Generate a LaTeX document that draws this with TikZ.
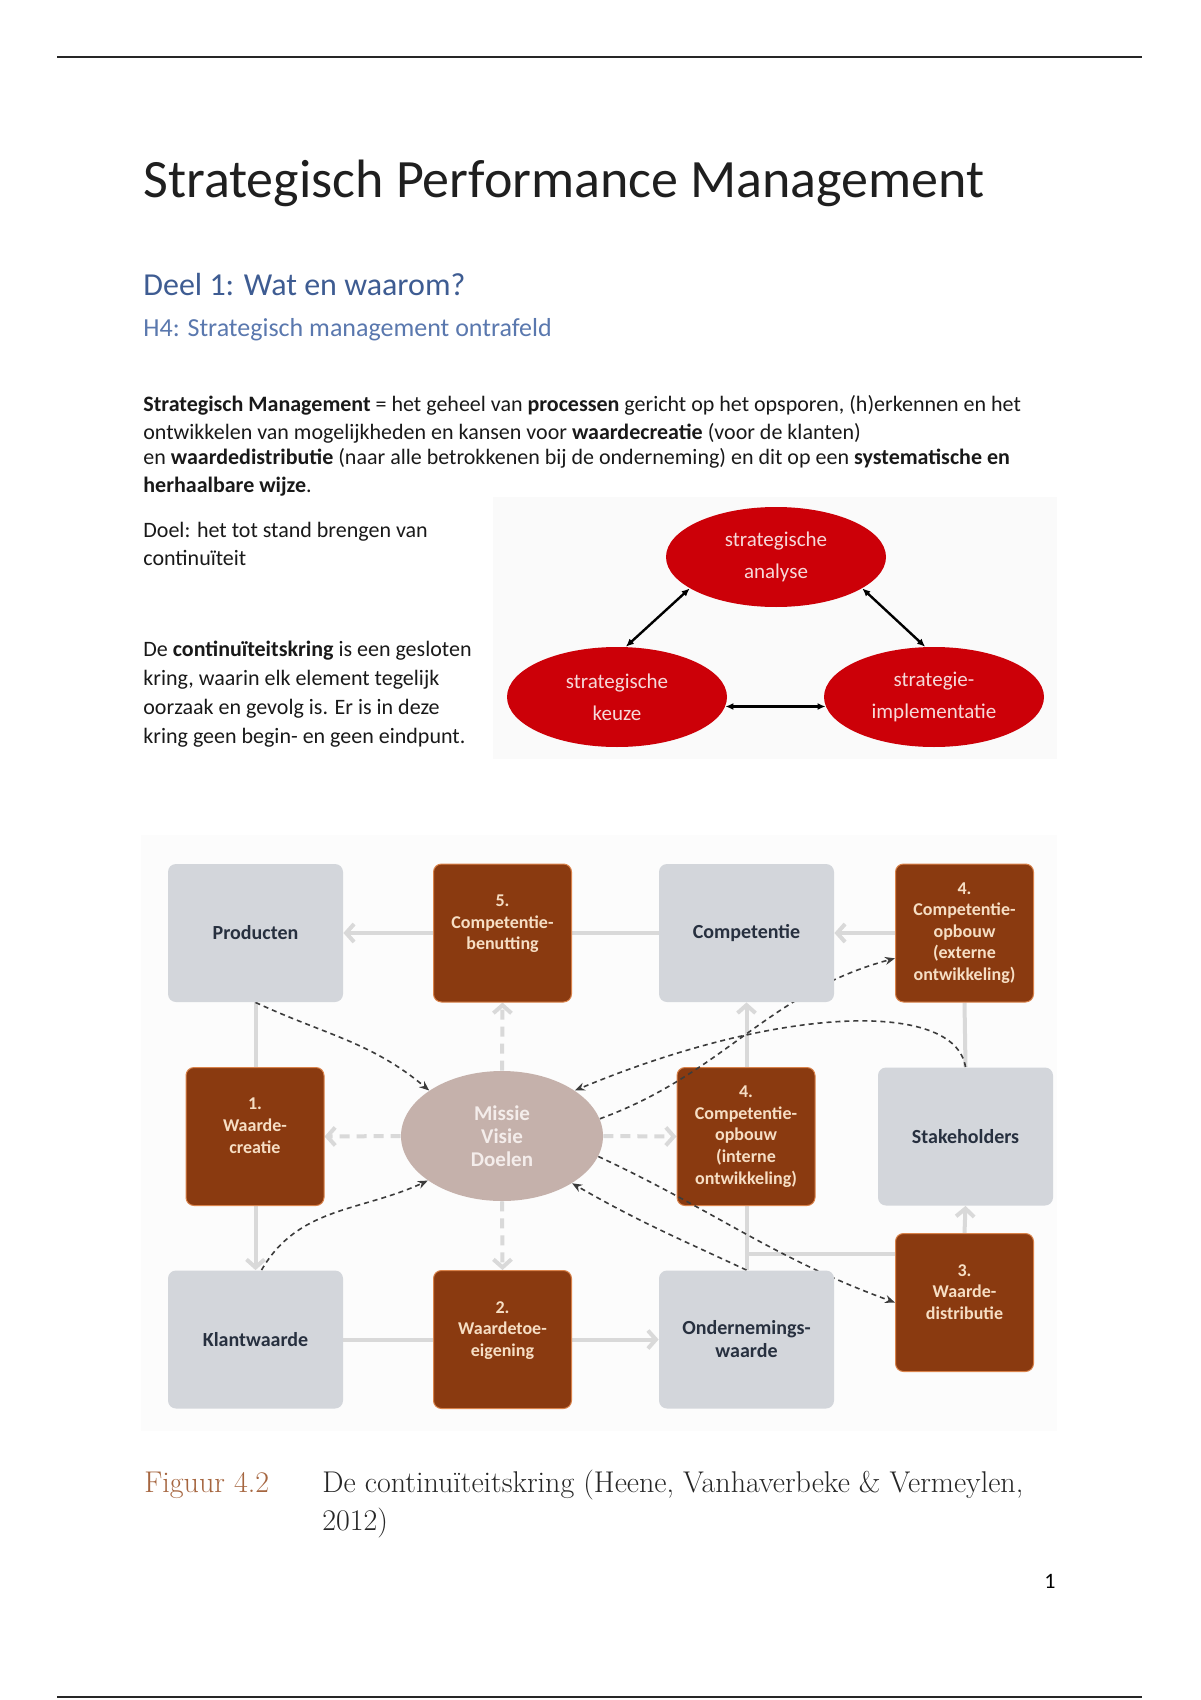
\documentclass[tikz,border=0pt]{standalone}
\usepackage{fontspec}
\usepackage{tikz}
\usetikzlibrary{arrows.meta,positioning,shapes.geometric,calc}
\newfontfamily\calibri{Carlito}
\definecolor{headblue}{HTML}{3E5C92}
\definecolor{subblue}{HTML}{5A78AE}
\definecolor{kringred}{HTML}{CC0008}
\definecolor{kringtext}{HTML}{F6D9D9}
\definecolor{boxgray}{HTML}{D3D6DB}
\definecolor{boxbrown}{HTML}{8A3A10}
\definecolor{brownedge}{HTML}{D9824A}
\definecolor{browntext}{HTML}{F6DEC4}
\definecolor{navytext}{HTML}{27303F}
\definecolor{flowgray}{HTML}{D9D9D9}
\definecolor{mvdfill}{HTML}{C5B1AB}
\definecolor{mvdtext}{HTML}{F4EDEB}
\definecolor{curvegray}{HTML}{3C3C3C}
\definecolor{captionbrown}{HTML}{A5653F}
\pgfdeclarelayer{lines}
\pgfdeclarelayer{brown}
\pgfdeclarelayer{curves}
\pgfsetlayers{lines,brown,curves,main}
\tikzset{
  pagetext/.style={anchor=base west,inner sep=0pt},
  bodytext/.style={pagetext,font=\calibri\fontsize{11}{13}\selectfont,text=black!90},
  kring/.style={ellipse,fill=kringred,minimum width=110pt,minimum height=50pt,inner sep=0pt,
                text=kringtext,align=center,font=\calibri\fontsize{10.5}{16}\selectfont},
  kringarrow/.style={{Latex[length=4pt,width=3.5pt]}-{Latex[length=4pt,width=3.5pt]},line width=1.2pt},
  graybox/.style={rectangle,rounded corners=4pt,fill=boxgray,minimum width=87.5pt,minimum height=69pt,
                  text=navytext,align=center,font=\calibri\bfseries\fontsize{10}{11.5}\selectfont},
  brownbox/.style={rectangle,rounded corners=4pt,fill=boxbrown,draw=brownedge,line width=0.5pt,
                   minimum width=69pt,minimum height=69pt,text=browntext,align=center,
                   font=\calibri\bfseries\fontsize{9}{10.8}\selectfont},
  mvdnode/.style={ellipse,fill=mvdfill,minimum width=101pt,minimum height=65pt,inner sep=0pt,
                  text=mvdtext,align=center,font=\calibri\bfseries\fontsize{10.5}{11.4}\selectfont},
  flow/.style={draw=flowgray,line width=2pt,-{Straight Barb[length=4pt,width=9pt]}},
  flowplain/.style={draw=flowgray,line width=2pt},
  flowdash/.style={flow,dash pattern=on 5pt off 3.5pt},
  feedback/.style={draw=curvegray,line width=0.8pt,dash pattern=on 2.5pt off 2pt,
                   -{Stealth[length=5pt,width=4pt]}},
}
\begin{document}
\begin{tikzpicture}[x=0.5pt,y=-0.5pt]
  \useasboundingbox (0,0) rectangle (1200,1700);
  % page rules
  \draw[line width=1.1pt,black!85] (57,57) -- (1142,57);
  \draw[line width=1.1pt,black!85] (57,1697) -- (1142,1697);

  % Headings
  \node[pagetext,text=black!88,font=\calibri\fontsize{27}{33}\selectfont] (title) at (143,198) {Strategisch Performance Management};
  \node[pagetext,text=headblue,font=\calibri\fontsize{16}{19}\selectfont] (deel) at (143,296) {Deel 1: Wat en waarom?};
  \node[pagetext,text=subblue,font=\calibri\fontsize{13}{16}\selectfont] (hfour) at (143,337) {H4: Strategisch management ontrafeld};

  % Definition
  \node[bodytext] (def1) at (143,412) {\textbf{Strategisch Management} = het geheel van \textbf{processen} gericht op het opsporen, (h)erkennen en het};
  \node[bodytext] (def2) at (143,439) {ontwikkelen van mogelijkheden en kansen voor \textbf{waardecreatie} (voor de klanten)};
  \node[bodytext] (def3) at (143,465) {en \textbf{waardedistributie} (naar alle betrokkenen bij de onderneming) en dit op een \textbf{systematische en}};
  \node[bodytext] (def4) at (143,492) {\textbf{herhaalbare wijze}.};
  \node[bodytext] (doel1) at (143,537) {Doel: het tot stand brengen van};
  \node[bodytext] (doel2) at (143,565) {continuïteit};
  \node[bodytext] (kring1) at (143,656) {De \textbf{continuïteitskring} is een gesloten};
  \node[bodytext] (kring2) at (143,685) {kring, waarin elk element tegelijk};
  \node[bodytext] (kring3) at (143,714) {oorzaak en gevolg is. Er is in deze};
  \node[bodytext] (kring4) at (143,743) {kring geen begin- en geen eindpunt.};

  % Red triangle
  \fill[black!2] (493,497) rectangle (1057,759);
  \node[kring] (analyse) at (776,557) {strategische\\analyse};
  \node[kring] (keuze) at (617,697) {strategische\\keuze};
  \node[kring] (impl) at (934,697) {strategie-\\implementatie};
  \draw[kringarrow] (keuze.80) -- (analyse.200);
  \draw[kringarrow] (analyse.-20) -- (impl.100);
  \draw[kringarrow] (keuze.-5) -- (impl.185);

  % Continuiteitskring
  \begin{pgfonlayer}{lines}
    \fill[black!1.2] (141,835) rectangle (1057,1431);
  \end{pgfonlayer}
  \node[graybox] (prod) at (255.5,933) {Producten};
  \node[graybox] (comp) at (746.5,933) {Competentie};
  \node[graybox] (stake) at (965.5,1136.5) {Stakeholders};
  \node[graybox] (klant) at (255.5,1339.5) {Klantwaarde};
  \node[graybox] (onder) at (746.5,1339.5) {Ondernemings-\\waarde};
  \node[mvdnode] (mvd) at (502,1136) {Missie\\Visie\\Doelen};
  \begin{pgfonlayer}{brown}
    \node[brownbox] (benut) at (502.5,933) {5.\\Competentie-\\benutting\\~};
    \node[brownbox] (extern) at (964.5,933) {4.\\Competentie-\\opbouw\\(externe\\ontwikkeling)};
    \node[brownbox] (creatie) at (255,1136.5) {1.\\Waarde-\\creatie\\~};
    \node[brownbox] (intern) at (746,1136.5) {4.\\Competentie-\\opbouw\\(interne\\ontwikkeling)};
    \node[brownbox] (eigen) at (502.5,1339.5) {2.\\Waardetoe-\\eigening\\~};
    \node[brownbox] (distr) at (964.5,1302.5) {3.\\Waarde-\\distributie\\~};
  \end{pgfonlayer}
  \coordinate (split) at (746.5,1254);

  % light flows behind the boxes
  \begin{pgfonlayer}{lines}
    \draw[flow] (comp.west) -- (prod.east);
    \draw[flow] (extern.west) -- (comp.east);
    \draw[flow] (prod.south) -- (klant.north);
    \draw[flow] (klant.east) -- (onder.west);
    \draw[flow] (onder.north) -- (comp.south);
    \draw[flowplain] (split) -- (split -| distr.west);
    \draw[flow] (distr.north) -- (stake.south);
    \draw[flowplain] (stake.north) -- (extern.south);
    \draw[flowdash] (mvd.north) -- (benut.south);
    \draw[flowdash] (mvd.west) -- (creatie.east);
    \draw[flowdash] (mvd.east) -- (intern.west);
    \draw[flowdash] (mvd.south) -- (eigen.north);
  \end{pgfonlayer}

  % feedback loops
  \begin{pgfonlayer}{curves}
    \draw[feedback] (prod.south) to[out=-25,in=140] (mvd.148);
    \draw[feedback] ([xshift=3pt]klant.north) to[out=60,in=205] (mvd.211);
    \draw[feedback] (mvd.10) to[out=20,in=195] (extern.200);
    \draw[feedback] (stake.north) .. controls (955,1000) and (780,1005) .. (mvd.32);
    \draw[feedback] (mvd.-12) to[out=-25,in=160] (distr.west);
    \draw[feedback] (onder.north) to[out=155,in=-30] (mvd.-34);
  \end{pgfonlayer}

  % Caption
  \node[pagetext,text=captionbrown,font=\fontsize{15}{18}\selectfont] (figlabel) at (144,1492) {Figuur 4.2};
  \node[pagetext,text=black!85,font=\fontsize{15}{18}\selectfont] (figcap1) at (322,1492) {De continuïteitskring (Heene, Vanhaverbeke \& Vermeylen,};
  \node[pagetext,text=black!85,font=\fontsize{15}{18}\selectfont] (figcap2) at (322,1530) {2012)};
  \node[anchor=base,inner sep=0pt,font=\calibri\fontsize{11}{13}\selectfont] (pagenr) at (1050,1588) {1};
\end{tikzpicture}
\end{document}
